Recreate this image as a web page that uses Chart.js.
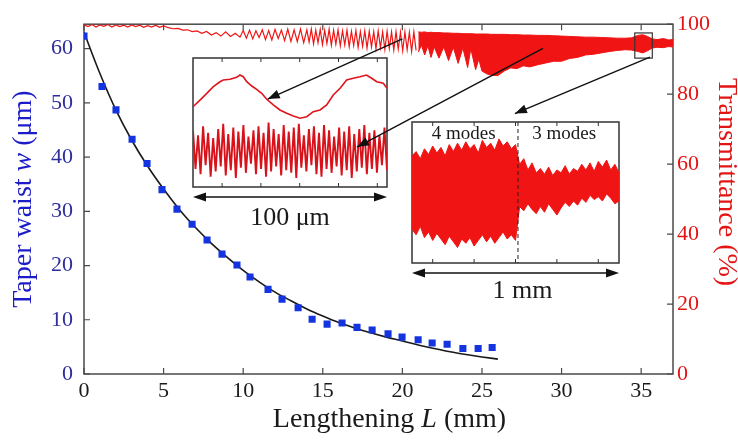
<!DOCTYPE html>
<html><head><meta charset="utf-8">
<script src="https://cdn.jsdelivr.net/npm/chart.js@4.4.1/dist/chart.umd.min.js"></script>
<style>
html,body{margin:0;padding:0;background:#fff;}
#wrap{position:relative;width:738px;height:442px;}
#wrap canvas{position:absolute;left:0;top:0;}
</style>
</head><body>
<div id="wrap">
<canvas id="c0" width="738" height="442"></canvas>
<canvas id="c1" width="738" height="442"></canvas>
<canvas id="c2" width="738" height="442"></canvas>
</div>
<script>
// ---------- tick labels ----------
const lengthTicks = [0, 5, 10, 15, 20, 25, 30, 35];
const waistTicks = [0, 10, 20, 30, 40, 50, 60];
const transTicks = [0, 20, 40, 60, 80, 100];

// ---------- taper waist measurements (blue squares) ----------
const waistL = [0, 1.13, 2.01, 3.02, 3.96, 4.9, 5.84, 6.79, 7.73, 8.67, 9.61, 10.43, 11.56, 12.44, 13.45, 14.33, 15.27, 16.21, 17.15, 18.1, 19.1, 19.98, 20.99, 21.87, 22.81, 23.8, 24.76, 25.64];
const waistW = [62.3, 53.0, 48.7, 43.3, 38.8, 34.0, 30.4, 27.6, 24.7, 22.1, 20.1, 17.9, 15.6, 13.8, 12.2, 10.1, 9.2, 9.4, 8.6, 8.1, 7.4, 6.8, 6.3, 5.7, 5.5, 4.7, 4.7, 4.9];

// ---------- fitted waist curve (black line) ----------
const fitL = [0, 1, 2, 3, 4, 5, 6, 7, 8, 9, 10, 11, 12, 13, 14, 15, 16, 17, 18, 19, 20, 21, 22, 23, 24, 25, 26];
const fitW = [63.0, 55.4, 48.7, 43.1, 38.3, 34.1, 30.3, 27.0, 24.1, 21.5, 19.1, 17.0, 15.1, 13.5, 12.0, 10.7, 9.5, 8.5, 7.6, 6.8, 6.1, 5.35, 4.7, 4.1, 3.6, 3.15, 2.75];

// ---------- transmittance trace, resolved oscillations (L < 21 mm) ----------
const traceL = [0, 0.25, 0.5, 0.75, 1, 1.25, 1.5, 1.75, 2, 2.25, 2.5, 2.75, 3, 3.25, 3.5, 3.75, 4, 4.25, 4.5, 4.75, 5,
  5.3, 5.6, 5.9, 6.2, 6.5, 6.8, 7.1, 7.4, 7.7, 8.0, 8.3, 8.6, 8.9, 9.2, 9.5, 9.8,
  10.0, 10.2, 10.4, 10.6, 10.8, 11.0, 11.2, 11.4, 11.6, 11.8, 12.0, 12.2, 12.4, 12.6, 12.8, 13.0, 13.2, 13.4, 13.6, 13.8,
  14.0, 14.14, 14.28, 14.42, 14.56, 14.7, 14.84, 14.98, 15.12, 15.26, 15.4, 15.54, 15.68, 15.82, 15.96, 16.1, 16.24, 16.38, 16.52, 16.66,
  16.8, 16.94, 17.08, 17.22, 17.36, 17.5, 17.64, 17.78, 17.92, 18.06, 18.2, 18.34, 18.48, 18.62, 18.76, 18.9, 19.04, 19.18, 19.32, 19.46,
  19.6, 19.74, 19.88, 20.02, 20.16, 20.3, 20.44, 20.58, 20.72, 20.86];
const traceT = [99.8, 99.3, 99.9, 99.2, 99.8, 99.4, 99.9, 99.2, 99.8, 99.3, 99.7, 99.2, 99.8, 99.3, 99.7, 99.1, 99.6, 99.2, 99.7, 99.1, 99.5,
  99.0, 98.7, 98.8, 98.3, 98.4, 97.9, 98.1, 97.4, 97.9, 96.9, 97.6, 96.6, 97.8, 96.5, 97.4, 96.3,
  98.2, 96.0, 98.3, 95.8, 98.1, 96.2, 98.4, 95.6, 98.2, 95.5, 98.5, 95.9, 98.3, 95.3, 98.6, 95.1, 98.4, 95.0, 98.6, 94.7,
  98.4, 94.9, 98.6, 94.4, 98.3, 94.7, 98.5, 94.2, 98.2, 94.5, 98.6, 94.0, 98.3, 94.3, 98.4, 93.8, 98.1, 94.1, 98.3, 93.6,
  98.0, 93.9, 98.2, 93.4, 97.9, 93.7, 98.1, 93.2, 98.0, 93.5, 97.9, 93.0, 98.1, 93.3, 97.8, 92.8, 98.0, 93.1, 97.8, 92.6,
  97.9, 92.9, 97.7, 92.4, 97.8, 92.7, 97.7, 92.2, 97.8, 92.5];

// ---------- transmittance, dense oscillation envelope (L >= 21 mm) ----------
const bandL = [21.0, 21.2, 21.4, 21.6, 21.8, 22.0, 22.3, 22.6, 22.9, 23.2, 23.5, 23.8, 24.1, 24.3, 24.6, 24.8, 25.0, 25.3, 25.6, 26.0, 26.4, 26.8, 27.2, 27.6, 28.0, 28.5, 29.0, 29.5, 30.0, 30.5, 31.0, 31.5, 32.0, 32.5, 33.0, 33.5, 34.0, 34.4, 34.8, 35.1, 35.4, 35.7, 36.0, 36.4, 36.7, 37.0];
const bandHi = [97.8, 97.7, 97.8, 97.6, 97.7, 97.6, 97.6, 97.5, 97.5, 97.4, 97.4, 97.3, 97.3, 97.3, 97.2, 97.2, 97.2, 97.2, 97.1, 97.1, 97.1, 97.0, 97.0, 96.9, 96.9, 96.8, 96.8, 96.7, 96.6, 96.5, 96.4, 96.3, 96.3, 96.2, 96.1, 96.0, 96.0, 96.1, 96.8, 97.0, 96.5, 95.8, 95.6, 95.9, 95.5, 95.6];
const bandLo = [92.0, 94.0, 91.2, 93.8, 90.5, 93.5, 90.3, 93.5, 89.6, 93.4, 88.8, 93.2, 87.6, 93.0, 87.0, 90.0, 86.6, 85.8, 85.4, 85.3, 86.6, 87.5, 87.3, 88.1, 87.8, 88.4, 88.9, 89.4, 89.4, 90.2, 90.5, 91.2, 91.4, 91.8, 92.2, 92.5, 92.7, 92.6, 92.2, 91.8, 92.4, 93.2, 93.4, 93.3, 93.6, 93.5];

// ---------- inset 1 (100 um window) ----------
const slowX = [0, 3.6, 7.1, 10.5, 13.9, 15.6, 19.1, 22.5, 24.2, 25.9, 27.7, 30.3, 32.8, 35.4, 38.0, 41.4, 44.8, 48.3, 51.7, 55.2, 58.6, 62.0, 65.5, 68.9, 72.3, 75.8, 79.2, 82.6, 86.1, 89.4, 92.1, 94.7, 98.1, 100];
const slowY = [62.2, 67.4, 72.6, 77.8, 81.6, 82.9, 83.5, 85.0, 86.8, 85.5, 81.6, 78.3, 75.7, 72.6, 68.0, 63.6, 59.7, 57.1, 55.0, 53.3, 54.5, 58.4, 59.7, 63.6, 71.3, 76.5, 82.9, 84.3, 85.5, 86.8, 84.3, 81.6, 80.4, 76.5];
const fastHi = [44, 40, 47, 42, 38, 45, 49, 41, 46, 43, 48, 39, 44, 47, 42, 50, 45, 41, 48, 43, 46, 49, 40, 45, 47, 42, 48, 44, 39, 46, 43, 47, 41, 45, 48, 42, 44, 40, 46];
const fastLo = [14, 10, 17, 8, 12, 16, 9, 13, 7, 15, 11, 18, 10, 14, 8, 12, 16, 9, 13, 11, 7, 15, 12, 17, 10, 8, 14, 11, 16, 9, 13, 7, 12, 15, 10, 14, 11, 17, 13];

// ---------- inset 2 (1 mm window, 4 modes / 3 modes) ----------
const modesHi = [76, 79, 74, 81, 77, 83, 78, 82, 76, 84, 79, 85, 80, 86, 81, 84, 78, 87, 82, 85, 80, 88, 83, 86, 81, 84,
  70, 74, 66, 71, 64, 67, 63, 68, 62, 66, 64, 69, 63, 67, 65, 70, 66, 71, 65, 72, 68, 73, 66, 70, 64];
const modesLo = [24, 20, 26, 18, 22, 16, 21, 17, 13, 19, 15, 11, 17, 14, 18, 12, 16, 20, 15, 19, 14, 18, 22, 17, 20, 16,
  40, 37, 42, 38, 35, 40, 36, 42, 38, 34, 39, 43, 40, 44, 41, 46, 43, 48, 45, 47, 44, 49, 46, 42, 44];

// ---------- styling ----------
const RED = '#f01414';
const BLUE_PT = '#1434e0';
const SERIF = '"Liberation Serif", "Times New Roman", serif';
const FRAME = '#4a4a4a';

function pts(xs, ys) { return xs.map((x, i) => ({ x: x, y: ys[i] })); }

function drawMixed(ctx, parts, cx, cy, rot, size, color) {
  ctx.save();
  ctx.translate(cx, cy);
  ctx.rotate(rot);
  ctx.fillStyle = color;
  ctx.textBaseline = 'middle';
  ctx.textAlign = 'left';
  let total = 0;
  parts.forEach(p => { ctx.font = (p[1] ? 'italic ' : '') + size + 'px ' + SERIF; total += ctx.measureText(p[0]).width; });
  let x = -total / 2;
  parts.forEach(p => { ctx.font = (p[1] ? 'italic ' : '') + size + 'px ' + SERIF; ctx.fillText(p[0], x, 0); x += ctx.measureText(p[0]).width; });
  ctx.restore();
}

const mainPlugin = {
  id: 'mainFrame',
  beforeDatasetsDraw(chart) {
    const { ctx, chartArea: a, scales } = chart;
    ctx.save();
    ctx.strokeStyle = FRAME;
    ctx.lineWidth = 1.5;
    ctx.strokeRect(a.left, a.top, a.right - a.left, a.bottom - a.top);
    ctx.lineWidth = 1.2;
    ctx.beginPath();
    lengthTicks.forEach(v => { const x = scales.x.getPixelForValue(v); ctx.moveTo(x, a.bottom); ctx.lineTo(x, a.bottom - 6); ctx.moveTo(x, a.top); ctx.lineTo(x, a.top + 6); });
    waistTicks.forEach(v => { const y = scales.y.getPixelForValue(v); ctx.moveTo(a.left, y); ctx.lineTo(a.left + 6, y); });
    transTicks.forEach(v => { const y = scales.y2.getPixelForValue(v); ctx.moveTo(a.right, y); ctx.lineTo(a.right - 6, y); });
    ctx.stroke();
    ctx.restore();
  },
  afterDraw(chart) {
    const { ctx, chartArea: a } = chart;
    drawMixed(ctx, [['Lengthening ', false], ['L', true], [' (mm)', false]], (a.left + a.right) / 2 + 11, a.bottom + 46, 0, 28, '#1a1a1a');
    drawMixed(ctx, [['Taper waist ', false], ['w', true], [' (\u03bcm)', false]], 24, (a.top + a.bottom) / 2, -Math.PI / 2, 28, '#1c1cc8');
    drawMixed(ctx, [['Transmittance (%)', false]], 726, (a.top + a.bottom) / 2 - 17, Math.PI / 2, 28, '#e41414');
  }
};

const mainChart = new Chart(document.getElementById('c0'), {
  type: 'line',
  data: {
    datasets: [
      { label: 'Taper waist', data: pts(waistL, waistW), yAxisID: 'y', showLine: false, pointStyle: 'rect', pointRadius: 5, pointBackgroundColor: BLUE_PT, pointBorderColor: BLUE_PT, pointBorderWidth: 0 },
      { label: 'Fit', data: pts(fitL, fitW), yAxisID: 'y', borderColor: '#1a1a1a', borderWidth: 1.6, pointRadius: 0, cubicInterpolationMode: 'monotone', fill: false },
      { label: 'Transmittance', data: pts(traceL, traceT), yAxisID: 'y2', borderColor: RED, borderWidth: 1.2, pointRadius: 0, tension: 0, fill: false },
      { label: 'Transmittance upper', data: pts(bandL, bandHi), yAxisID: 'y2', borderColor: RED, borderWidth: 1, pointRadius: 0, tension: 0, fill: '+1', backgroundColor: RED },
      { label: 'Transmittance lower', data: pts(bandL, bandLo), yAxisID: 'y2', borderColor: RED, borderWidth: 1, pointRadius: 0, tension: 0, fill: false }
    ]
  },
  options: {
    responsive: false, animation: false, devicePixelRatio: 1, events: [],
    layout: { padding: { top: 13, left: 0, right: 0, bottom: 0 } },
    plugins: { legend: { display: false }, tooltip: { enabled: false } },
    scales: {
      x: {
        type: 'linear', min: 0, max: 37, position: 'bottom',
        grid: { display: false, drawTicks: false }, border: { display: false },
        ticks: { stepSize: 5, includeBounds: false, color: '#1a1a1a', font: { family: SERIF, size: 22 }, padding: 4, maxRotation: 0 },
        afterFit(s) { s.height = 68; }
      },
      y: {
        type: 'linear', min: 0, max: 64.5, position: 'left',
        grid: { display: false, drawTicks: false }, border: { display: false },
        ticks: { stepSize: 10, includeBounds: false, color: '#2e2e9c', font: { family: SERIF, size: 22 }, padding: 11 },
        afterFit(s) { s.width = 84; }
      },
      y2: {
        type: 'linear', min: 0, max: 100, position: 'right',
        grid: { display: false, drawTicks: false }, border: { display: false },
        ticks: { stepSize: 20, includeBounds: false, color: '#e41414', font: { family: SERIF, size: 22 }, padding: 4 },
        afterFit(s) { s.width = 65; }
      }
    }
  },
  plugins: [mainPlugin]
});

function insetFrame(chart, tickVals, scaleId) {
  const { ctx, chartArea: a, scales } = chart;
  ctx.save();
  ctx.strokeStyle = '#333';
  ctx.lineWidth = 1.5;
  ctx.strokeRect(a.left, a.top, a.right - a.left, a.bottom - a.top);
  ctx.lineWidth = 1;
  ctx.beginPath();
  tickVals.forEach(v => { const x = scales[scaleId].getPixelForValue(v); ctx.moveTo(x, a.bottom); ctx.lineTo(x, a.bottom - 4); ctx.moveTo(x, a.top); ctx.lineTo(x, a.top + 4); });
  ctx.stroke();
  ctx.restore();
}

const inset1Ticks = [15, 35, 55, 75, 95];
const fastSeq = [];
fastHi.forEach((h, i) => { fastSeq.push({ x: 2 * i, y: h }); fastSeq.push({ x: 2 * i + 1, y: fastLo[i] }); });

const inset1 = new Chart(document.getElementById('c1'), {
  type: 'line',
  data: {
    datasets: [
      { label: 'slow', data: pts(slowX, slowY), xAxisID: 'x', borderColor: '#e0141c', borderWidth: 1.6, pointRadius: 0, tension: 0, fill: false },
      { label: 'fast', data: fastSeq, xAxisID: 'xi', borderColor: '#d8121a', borderWidth: 1.9, pointRadius: 0, tension: 0, fill: false }
    ]
  },
  options: {
    responsive: false, animation: false, devicePixelRatio: 1, events: [],
    layout: { padding: { left: 193, top: 58, right: 738 - 387, bottom: 442 - 187 } },
    plugins: { legend: { display: false }, tooltip: { enabled: false } },
    scales: {
      x: { type: 'linear', display: false, min: 0, max: 100 },
      xi: { type: 'linear', display: false, min: 0, max: fastHi.length * 2 - 1 },
      y: { type: 'linear', display: false, min: 0, max: 100 }
    }
  },
  plugins: [{ id: 'f1', beforeDatasetsDraw(c) { insetFrame(c, inset1Ticks, 'x'); } }]
});

const inset2Ticks = [100, 300, 500, 700, 900];
const modeBoundary = 512;
const modeX = modesHi.map((_, i) => i * 1000 / (modesHi.length - 1));

function arrowHead(ctx, x0, y0, x1, y1, len, half) {
  const ang = Math.atan2(y1 - y0, x1 - x0);
  ctx.beginPath();
  ctx.moveTo(x1, y1);
  ctx.lineTo(x1 - len * Math.cos(ang) + half * Math.sin(ang), y1 - len * Math.sin(ang) - half * Math.cos(ang));
  ctx.lineTo(x1 - len * Math.cos(ang) - half * Math.sin(ang), y1 - len * Math.sin(ang) + half * Math.cos(ang));
  ctx.closePath();
  ctx.fill();
}
function arrow(ctx, x0, y0, x1, y1) {
  ctx.beginPath(); ctx.moveTo(x0, y0); ctx.lineTo(x1, y1); ctx.stroke();
  arrowHead(ctx, x0, y0, x1, y1, 12, 4.5);
}
function dblArrow(ctx, x0, x1, y) {
  ctx.beginPath(); ctx.moveTo(x0 + 4, y); ctx.lineTo(x1 - 4, y); ctx.stroke();
  arrowHead(ctx, x1, y, x0, y, 13, 4.5);
  arrowHead(ctx, x0, y, x1, y, 13, 4.5);
}

const annotPlugin = {
  id: 'annot',
  beforeDatasetsDraw(c) { insetFrame(c, inset2Ticks, 'x'); },
  afterDraw(c) {
    const ctx = c.ctx;
    const m = mainChart.scales, s1 = inset1.scales, s2 = c.scales;
    const a1 = inset1.chartArea, a2 = c.chartArea;
    ctx.save();
    ctx.strokeStyle = '#222'; ctx.lineWidth = 1; ctx.setLineDash([4, 3]);
    const bx = s2.x.getPixelForValue(modeBoundary);
    ctx.beginPath(); ctx.moveTo(bx, a2.top); ctx.lineTo(bx, a2.bottom); ctx.stroke();
    ctx.setLineDash([]);
    ctx.fillStyle = '#1a1a1a'; ctx.textBaseline = 'middle'; ctx.textAlign = 'center';
    ctx.font = '19px ' + SERIF;
    ctx.fillText('4 modes', s2.x.getPixelForValue(250), a2.top + 12);
    ctx.fillText('3 modes', s2.x.getPixelForValue(735), a2.top + 12);
    ctx.strokeStyle = '#333'; ctx.lineWidth = 1.2;
    const rx0 = m.x.getPixelForValue(34.6), rx1 = m.x.getPixelForValue(35.7);
    const ry0 = m.y2.getPixelForValue(97.5), ry1 = m.y2.getPixelForValue(90.3);
    ctx.strokeRect(rx0, ry0, rx1 - rx0, ry1 - ry0);
    ctx.strokeStyle = '#111'; ctx.fillStyle = '#111'; ctx.lineWidth = 1.4;
    arrow(ctx, m.x.getPixelForValue(20.0), m.y2.getPixelForValue(95.8), s1.x.getPixelForValue(38.5), s1.y.getPixelForValue(68.2));
    arrow(ctx, m.x.getPixelForValue(28.83), m.y2.getPixelForValue(93.1), s1.x.getPixelForValue(84.5), s1.y.getPixelForValue(31));
    arrow(ctx, m.x.getPixelForValue(35.55), m.y2.getPixelForValue(90.6), s2.x.getPixelForValue(497), s2.y.getPixelForValue(106));
    ctx.lineWidth = 1.4;
    dblArrow(ctx, a1.left, a1.right, a1.bottom + 10);
    dblArrow(ctx, a2.left, a2.right, a2.bottom + 10);
    ctx.fillStyle = '#1a1a1a';
    ctx.font = '26px ' + SERIF;
    ctx.fillText('100 \u03bcm', (a1.left + a1.right) / 2, a1.bottom + 31);
    ctx.fillText('1 mm', (a2.left + a2.right) / 2 + 7, a2.bottom + 28);
    ctx.restore();
  }
};

const inset2 = new Chart(document.getElementById('c2'), {
  type: 'line',
  data: {
    datasets: [
      { label: 'upper', data: pts(modeX, modesHi), borderColor: RED, borderWidth: 1, pointRadius: 0, tension: 0, fill: '+1', backgroundColor: RED },
      { label: 'lower', data: pts(modeX, modesLo), borderColor: RED, borderWidth: 1, pointRadius: 0, tension: 0, fill: false }
    ]
  },
  options: {
    responsive: false, animation: false, devicePixelRatio: 1, events: [],
    layout: { padding: { left: 412, top: 122, right: 738 - 619, bottom: 442 - 263 } },
    plugins: { legend: { display: false }, tooltip: { enabled: false } },
    scales: {
      x: { type: 'linear', display: false, min: 0, max: 1000 },
      y: { type: 'linear', display: false, min: 0, max: 100 }
    }
  },
  plugins: [annotPlugin]
});
</script>
</body></html>
